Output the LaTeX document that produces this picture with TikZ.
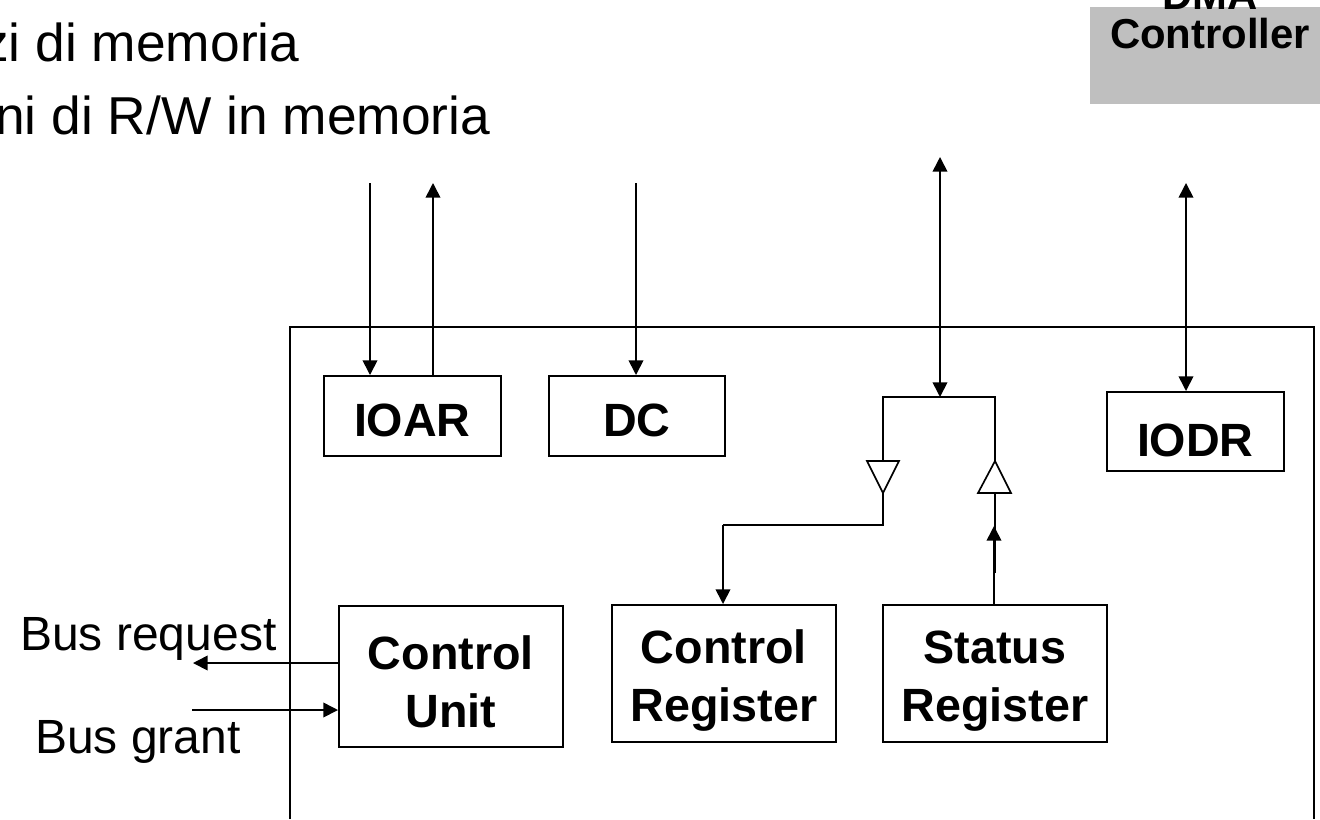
\documentclass[tikz,border=0pt]{standalone}
\usepackage{fontspec}
\setmainfont{Liberation Sans}
\usetikzlibrary{arrows.meta}
\newcommand{\dn}[1]{\rule{0pt}{#1}}
\tikzset{
  x=0.75pt,y=-0.75pt,
  reg/.style={draw=black,line width=1.25pt,fill=white,inner sep=0pt,font=\fontsize{35}{43.5}\selectfont\bfseries,align=center,anchor=north west},
  lab/.style={inner sep=0pt,font=\fontsize{36}{42}\selectfont,anchor=base west},
  toptext/.style={inner sep=0pt,font=\fontsize{40}{48}\selectfont,anchor=base west},
  wire/.style={draw=black,line width=1.25pt},
  arr/.style={wire,-{Triangle[length=11pt,width=11pt]}},
  darr/.style={wire,{Triangle[length=11pt,width=11pt]}-{Triangle[length=11pt,width=11pt]}},
}
\begin{document}
\begin{tikzpicture}
\useasboundingbox (0,0) rectangle (1320,819);
\clip (0,0) rectangle (1320,819);
\coordinate (fl) at (290,819);
\coordinate (ftl) at (290,327);
\coordinate (ftr) at (1314,327);
\coordinate (fr) at (1314,819);
\draw[wire] (fl) -- (ftl) -- (ftr) -- (fr);
\node[toptext] (t1) at (-18,61) {zi di memoria};
\node[toptext] (t2) at (-5,134) {ni di R/W in memoria};
\node[fill=black!25,minimum width=230*0.75pt,minimum height=97*0.75pt,inner sep=0pt,anchor=north west] (dma) at (1090,7) {};
\node[inner sep=0pt,align=center,font=\fontsize{31.4}{29}\selectfont\bfseries,anchor=base] (dmat) at (1210,48) {DMA\\Controller};
\node[reg,minimum width=177*0.75pt,minimum height=80*0.75pt] (ioar) at (323,375) {\dn{31pt}IOAR};
\node[reg,minimum width=176*0.75pt,minimum height=80*0.75pt] (dc) at (548,375) {\dn{31pt}DC};
\node[reg,minimum width=177*0.75pt,minimum height=79*0.75pt] (iodr) at (1106,391) {\dn{38.5pt}IODR};
\node[reg,minimum width=224*0.75pt,minimum height=141*0.75pt] (cu) at (338,605) {\dn{34pt}Control\\Unit};
\node[reg,minimum width=224*0.75pt,minimum height=137*0.75pt] (cr) at (611,604) {\dn{35.5pt}Control\\Register};
\node[reg,minimum width=224*0.75pt,minimum height=137*0.75pt] (sr) at (882,604) {\dn{35.5pt}Status\\Register};
\coordinate (a1) at (370,183);
\coordinate (a2) at (433,183);
\coordinate (a3) at (636,183);
\coordinate (a4) at (940,157);
\coordinate (a5) at (1186,183);
\draw[arr] (a1) -- (a1 |- ioar.north);
\draw[arr] (a2 |- ioar.north) -- (a2);
\draw[arr] (a3) -- (a3 |- dc.north);
\draw[darr] (a5) -- (a5 |- iodr.north);
\coordinate (j) at (940,397);
\draw[darr] (a4) -- (j);
\coordinate (bl) at (883,397);
\coordinate (br) at (995,397);
\coordinate (tl) at (883,493);
\coordinate (tr) at (995,461);
\coordinate (trb) at (995,493);
\coordinate (th) at (995,573);
\coordinate (tip) at (994,526);
\draw[wire] (tl) -- (bl) -- (br) -- (tr);
\draw[wire,fill=white] (867,461) -- (899,461) -- (tl) -- cycle;
\draw[wire,fill=white] (978,493) -- (1011,493) -- (tr) -- cycle;
\coordinate (k) at (723,525);
\draw[wire] (tl) -- (883,525) -- (k);
\draw[arr] (k) -- (k |- cr.north);
\draw[wire] (trb) -- (th);
\draw[arr] (sr.north -| tip) -- (tip);
\coordinate (br1) at (193,663);
\coordinate (bg1) at (192,710);
\draw[arr] (cu.west |- br1) -- (br1);
\draw[arr] (bg1) -- (cu.west |- bg1);
\node[lab] (busr) at (20,650) {Bus request};
\node[lab] (busg) at (35,753) {Bus grant};
\end{tikzpicture}
\end{document}
